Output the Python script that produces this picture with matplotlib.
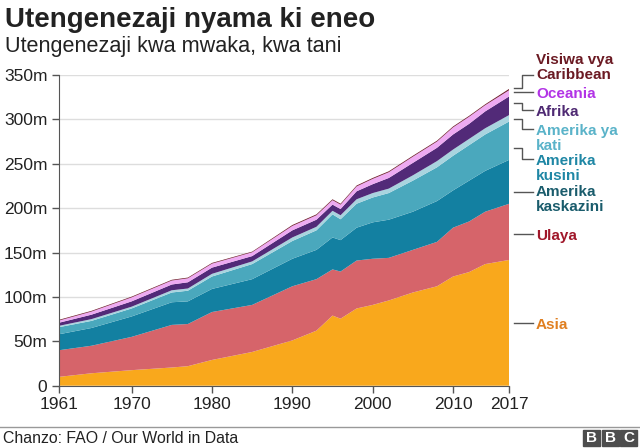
import matplotlib
matplotlib.use("Agg")
import matplotlib.pyplot as plt
from matplotlib.patches import Rectangle

plt.rcParams['font.family'] = ['Liberation Sans', 'DejaVu Sans']

# meat production by region, million tonnes
years = [1961, 1965, 1970, 1975, 1977, 1980, 1985, 1990, 1993, 1995, 1996,
         1998, 2000, 2002, 2005, 2008, 2010, 2012, 2014, 2017]
asia = [10, 14, 17.5, 20.5, 22, 29, 38, 51, 62, 79, 75.5,
        87, 91, 96, 105, 112, 123, 128, 137, 141.7]
ulaya = [30, 31, 37.5, 48, 47.5, 54, 53, 61, 58, 52, 53.1,
         54, 52, 48, 48, 50, 55, 57, 59, 63.3]
kaskazini = [18, 20, 23, 25.5, 25.5, 26, 29, 31, 33, 36, 35.4,
             37, 41, 43, 43, 46, 42, 46, 46, 49.5]
kusini = [8, 8, 9, 11, 12, 14, 17, 20, 22, 26, 23.5,
          27, 28, 30, 35, 38, 39, 40, 41, 43.2]
kati = [1.5, 2, 2, 2.5, 2.5, 3, 3, 4, 4, 4, 4.5,
        5, 5, 5, 6, 7, 7, 7, 7, 7.3]
afrika = [3.5, 5, 6, 6.5, 7, 7, 6, 8, 8, 7, 7,
          9, 10, 12, 14, 15, 17, 17, 19, 21]
oceania = [2.5, 3.5, 4.5, 4.5, 4.5, 4.5, 4.3, 5, 5, 5, 5,
           5.5, 6, 6.5, 7, 7, 8, 8, 7, 7]
caribbean = [0.8, 0.8, 0.8, 0.8, 0.8, 0.8, 0.7, 1, 1, 1, 1,
             1, 1, 1, 1, 1, 1, 1, 1, 1.5]

colors = ["#f9a81c", "#d6646a", "#1380a1", "#4aa8bd", "#a9d4df",
          "#522a78", "#eeaaf2", "#6e1a2a"]

W, H = 640, 448
fig = plt.figure(figsize=(6.4, 4.48), dpi=100)
ax = fig.add_axes([59.3 / W, 1 - 385.7 / H, 450 / W, 310.7 / H])

ax.stackplot(years, asia, ulaya, kaskazini, kusini, kati, afrika, oceania,
             caribbean, colors=colors, linewidth=0)

ax.set_xlim(1961, 2017)
ax.set_ylim(0, 350)
ax.set_yticks(range(0, 351, 50))
ax.set_yticklabels(["0"] + ["%dm" % v for v in range(50, 351, 50)])
ax.set_xticks([1961, 1970, 1980, 1990, 2000, 2010, 2017])
ax.grid(axis="y", color="#dddddd", linewidth=1)
ax.set_axisbelow(True)
for s in ["top", "right"]:
    ax.spines[s].set_visible(False)
for s in ["left", "bottom"]:
    ax.spines[s].set_color("#555555")
ax.tick_params(colors="#555555", labelcolor="#222222", labelsize=12.5,
               length=5, width=1)
ax.tick_params(axis="x", pad=3)

# titles
fig.text(5 / W, 1 - 27 / H, "Utengenezaji nyama ki eneo", fontsize=20,
         fontweight="bold", color="#222222")
fig.text(5 / W, 1 - 52 / H, "Utengenezaji kwa mwaka, kwa tani", fontsize=15.6,
         color="#222222")

# right-hand labels with leader lines (pixel positions)
def px(x, y):
    return x / W, 1 - y / H

labels = [
    (["Visiwa vya", "Caribbean"], 60, "#6b1a23"),
    (["Oceania"], 94, "#b233e6"),
    (["Afrika"], 112, "#4f2a73"),
    (["Amerika ya", "kati"], 131, "#5ab3c9"),
    (["Amerika", "kusini"], 161, "#1f87a5"),
    (["Amerika", "kaskazini"], 192, "#1a5c6c"),
    (["Ulaya"], 236, "#a0172a"),
    (["Asia"], 325, "#e07f20"),
]
for lines, y, c in labels:
    for i, t in enumerate(lines):
        fig.text(*px(536, y + i * 15), t, fontsize=11, fontweight="bold",
                 color=c, va="center")

leaders = [
    [(514, 88.3), (521.7, 88.3), (521.7, 75), (533, 75)],
    [(514, 92.3), (533, 92.3)],
    [(514, 103.3), (521.7, 103.3), (521.7, 110), (533, 110)],
    [(514, 119), (521.7, 119), (521.7, 129.3), (533, 129.3)],
    [(514, 148.3), (521.7, 148.3), (521.7, 159.3), (533, 159.3)],
    [(514, 191.7), (533, 191.7)],
    [(514, 234.3), (533, 234.3)],
    [(514, 323.3), (533, 323.3)],
]
for pts in leaders:
    xs = [p[0] / W for p in pts]
    ys = [1 - p[1] / H for p in pts]
    fig.add_artist(plt.Line2D(xs, ys, color="#555555", linewidth=1))

# footer
fig.add_artist(plt.Line2D([0, 1], [1 - 426.5 / H] * 2, color="#999999",
                          linewidth=1))
fig.text(*px(3, 443), "Chanzo: FAO / Our World in Data", fontsize=11.4,
         color="#222222")
for i, ch in enumerate("BBC"):
    x0 = 583 + i * 18.5
    fig.add_artist(Rectangle((x0 / W, 1 - 446 / H), 17 / W, 16.5 / H,
                             color="#4d4d4d", transform=fig.transFigure))
    fig.text((x0 + 8.5) / W, 1 - 437.8 / H, ch, fontsize=11, fontweight="bold",
             color="white", ha="center", va="center")

fig.savefig("out.png", dpi=100)
